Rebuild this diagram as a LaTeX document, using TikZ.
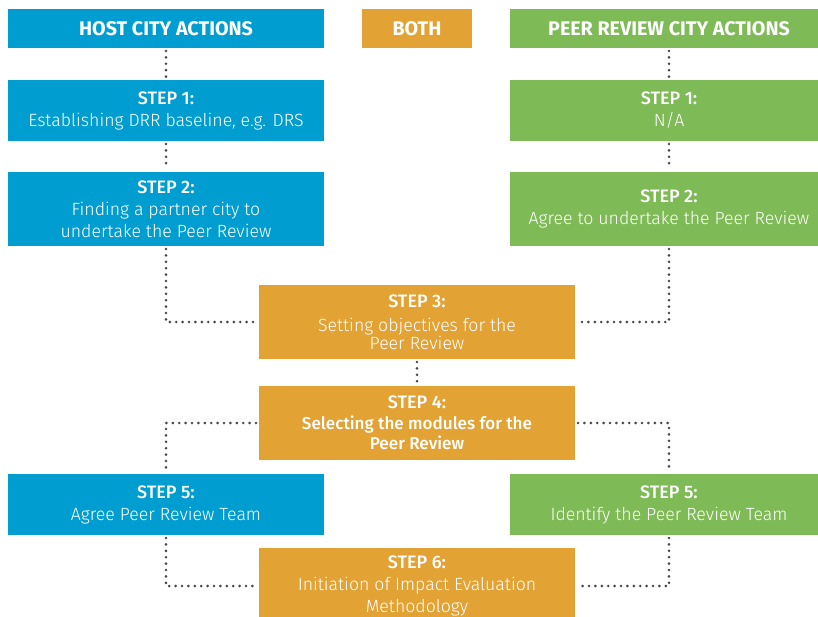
\documentclass[tikz,border=0pt]{standalone}
\usepackage{fontspec}
\setmainfont{Fira Sans Light}[BoldFont=Fira Sans Bold]
\newfontfamily\medfont{Fira Sans Medium}
\definecolor{cblue}{RGB}{0,157,209}
\definecolor{cgreen}{RGB}{126,186,85}
\definecolor{corange}{RGB}{226,162,52}
\definecolor{cdot}{RGB}{70,70,76}
\newcommand{\stp}[1]{{\medfont\fontsize{18}{22}\selectfont #1}}
\begin{document}
\begin{tikzpicture}[x=1pt,y=-1pt,
  box/.style={inner sep=0pt, outer sep=0pt, text=white, align=center,
    font=\fontsize{17.7}{22}\selectfont},
  bluebox/.style={box, fill=cblue, minimum width=316pt},
  greenbox/.style={box, fill=cgreen, minimum width=318pt},
  orangebox/.style={box, fill=corange, minimum width=316pt},
  head/.style={font=\fontsize{19.7}{22}\selectfont\bfseries, minimum height=39pt},
  dots/.style={draw=cdot, line width=2.9pt, line cap=round, dash pattern=on 0pt off 6.4pt, shorten <=3pt, shorten >=3pt}
]
\clip (0,0) rectangle (818,617);
\fill[white] (0,0) rectangle (818,617);
% headers
\node[bluebox, head] (hh) at (166,28.5) {HOST CITY ACTIONS};
\node[orangebox, head, minimum width=110pt] (bh) at (417,28.5) {BOTH};
\node[greenbox, head] (ph) at (669,28.5) {PEER REVIEW CITY ACTIONS};
% step 1
\node[bluebox, minimum height=61pt] (h1) at (166,110.5) {\stp{STEP 1:}\\Establishing DRR baseline, e.g. DRS};
\node[greenbox, minimum height=61pt] (p1) at (669,110.5) {\stp{STEP 1:}\\N/A};
% step 2
\node[bluebox, minimum height=74pt] (h2) at (166,209) {\stp{STEP 2:}\\Finding a partner city to\\undertake the Peer Review};
\node[greenbox, minimum height=74pt] (p2) at (669,209) {\stp{STEP 2:}\\Agree to undertake the Peer Review};
% step 3
\node[orangebox, minimum height=74pt] (s3) at (417,322) {\stp{STEP 3:}\\[2pt]Setting objectives for the\\[-4pt]Peer Review};
% step 4
\node[orangebox, minimum height=74pt, font=\fontsize{17.1}{20.5}\selectfont\medfont] (s4) at (417,423) {\stp{STEP 4:}\\Selecting the modules for the\\Peer Review};
% step 5
\node[bluebox, minimum height=61pt] (h5) at (166,504.5) {\stp{STEP 5:}\\Agree Peer Review Team};
\node[greenbox, minimum height=61pt] (p5) at (669,504.5) {\stp{STEP 5:}\\Identify the Peer Review Team};
% step 6
\node[orangebox, minimum height=76pt, font=\fontsize{17.7}{21.8}\selectfont] (s6) at (417,586) {\stp{STEP 6:}\\Initiation of Impact Evaluation\\Methodology};
% connectors
\draw[dots] (hh.south) -- (h1.north);
\draw[dots] (h1.south) -- (h2.north);
\draw[dots] (ph.south) -- (p1.north);
\draw[dots] (p1.south) -- (p2.north);
\draw[dots] (h2.south) |- (s3.west);
\draw[dots] (p2.south) |- (s3.east);
\draw[dots] (s3.south) -- (s4.north);
\draw[dots] (s4.west) -| (h5.north);
\draw[dots] (s4.east) -| (p5.north);
\draw[dots] (h5.south) |- (s6.west);
\draw[dots] (p5.south) |- (s6.east);
\end{tikzpicture}
\end{document}
